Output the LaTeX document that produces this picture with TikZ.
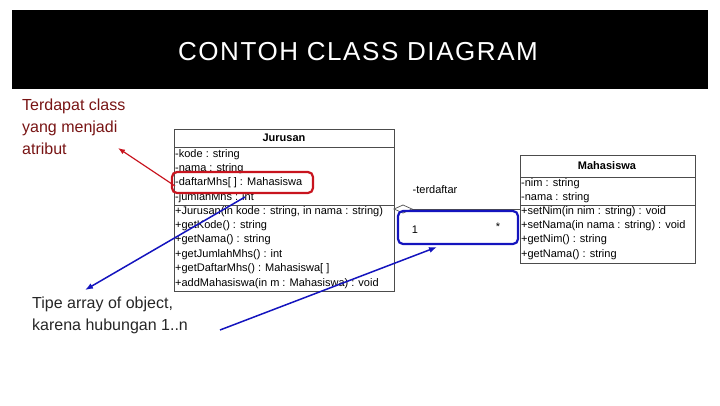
\documentclass[tikz,border=0pt]{standalone}
\usepackage{fontspec}
\setmainfont{Liberation Sans}
\usetikzlibrary{arrows.meta,shapes.geometric}
\definecolor{ann}{RGB}{120,20,20}
\definecolor{bl}{RGB}{20,20,190}
\definecolor{rd}{RGB}{200,20,30}
\tikzset{uml/.style={font=\fontsize{11}{14.4}\selectfont,anchor=north west,inner sep=1pt,align=left},
 ln/.style={draw=black!70,line width=0.7pt},
 callout/.style={line width=2.2pt,rounded corners=5pt}}
\begin{document}
\begin{tikzpicture}[x=1pt,y=-1pt]
\useasboundingbox (0,0) rectangle (720,405);
\fill[black] (12,10) rectangle (708,89);
\node[text=white,font=\fontsize{26}{30}\selectfont\addfontfeature{LetterSpace=6}] (title) at (358,52) {CONTOH CLASS DIAGRAM};
% Jurusan
\draw[ln,fill=white] (174,129) rectangle (394,291);
\draw[ln] (174,147) -- (394,147) (174,205) -- (394,205);
\node[font=\fontsize{11}{12}\selectfont\bfseries] (jt) at (284,138) {Jurusan};
\node[uml] (ja) at (174,148) {-kode : string\\-nama : string\\-daftarMhs[ ] : Mahasiswa\\-jumlahMhs : int};
\node[uml] (jm) at (174,205) {+Jurusan(in kode : string, in nama : string)\\+getKode() : string\\+getNama() : string\\+getJumlahMhs() : int\\+getDaftarMhs() : Mahasiswa[ ]\\+addMahasiswa(in m : Mahasiswa) : void};
% Mahasiswa
\draw[ln,fill=white] (520,155) rectangle (695,263);
\draw[ln] (520,177) -- (695,177) (520,205) -- (695,205);
\node[font=\fontsize{11}{12}\selectfont\bfseries] (mt) at (607,166) {Mahasiswa};
\node[uml] (ma) at (520,177) {-nim : string\\-nama : string};
\node[uml] (mm) at (520,205) {+setNim(in nim : string) : void\\+setNama(in nama : string) : void\\+getNim() : string\\+getNama() : string};
% association
\coordinate (d0) at (394,209);
\coordinate (d1) at (520,209);
\draw[ln] (412,209) -- (d1);
\draw[ln,fill=white] (d0) -- (403,205) -- (412,209) -- (403,213) -- cycle;
\node[font=\fontsize{11}{12}\selectfont] (rl) at (435,190) {-terdaftar};
\node[font=\fontsize{11}{12}\selectfont] (m1) at (415,230) {1};
\node[font=\fontsize{11}{12}\selectfont] (m2) at (498,227) {*};
% callouts
\draw[callout,draw=rd] (172,172) rectangle (313,193);
\draw[callout,draw=bl] (398,211) rectangle (518,244);
\node[text=ann,align=left,anchor=north west,font=\fontsize{16}{22}\selectfont,inner sep=0] (t1) at (22,99) {Terdapat class\\yang menjadi\\atribut};
\node[text=black!85,align=left,anchor=north west,font=\fontsize{16}{22}\selectfont,inner sep=0] (t2) at (32,297) {Tipe array of object,\\karena hubungan 1..n};
\coordinate (r0) at (175,186); \coordinate (r1) at (118,148);
\draw[rd,line width=1.2pt,-{Latex[length=7pt]}] (r0) -- (r1);
\coordinate (b0) at (245,197); \coordinate (b1) at (85,290);
\draw[bl,line width=1.5pt,-{Latex[length=8pt]}] (b0) -- (b1);
\coordinate (c0) at (220,330); \coordinate (c1) at (437,247);
\draw[bl,line width=1.5pt,-{Latex[length=8pt]}] (c0) -- (c1);
\end{tikzpicture}
\end{document}
